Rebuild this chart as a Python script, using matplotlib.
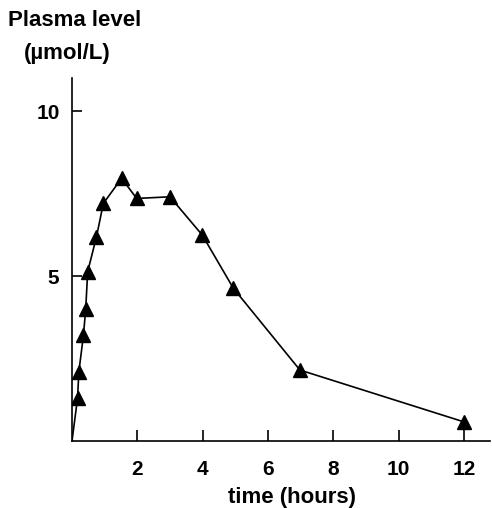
import matplotlib
matplotlib.use("Agg")
import matplotlib.pyplot as plt

plt.rcParams['font.family'] = ['Liberation Sans', 'DejaVu Sans']
plt.rcParams['font.weight'] = 'bold'

# plasma level vs time
time_h = [0.17, 0.21, 0.35, 0.42, 0.48, 0.75, 0.96, 1.52, 1.98, 3.0, 3.99, 4.94, 6.98, 12.0]
level = [1.3, 2.1, 3.2, 4.0, 5.13, 6.19, 7.2, 7.96, 7.35, 7.4, 6.24, 4.63, 2.15, 0.58]
xticks = [2, 4, 6, 8, 10, 12]
yticks = [5, 10]

fig = plt.figure(figsize=(4.92, 5.08), dpi=100)
ax = fig.add_axes([72/492, 67/508, 418/492, 363/508])

# line starts at the origin, no marker there
ax.plot([0] + time_h, [0] + level, color='black', lw=1.2)
ax.plot(time_h, level, linestyle='none', marker='^', ms=10, color='black')

ax.set_xlim(0, 12.8)
ax.set_ylim(0, 11)
ax.set_xticks(xticks)
ax.set_yticks(yticks)
for s in ['top', 'right']:
    ax.spines[s].set_visible(False)
for s in ['left', 'bottom']:
    ax.spines[s].set_linewidth(1.2)
ax.tick_params(axis='x', direction='in', length=8, width=1.2, pad=14, labelsize=15)
ax.tick_params(axis='y', direction='in', length=7, width=1.2, pad=9, labelsize=15)

fig.text(8/492, 1 - 20/508, 'Plasma level', fontsize=16, fontweight='bold', va='center', ha='left')
fig.text(24/492, 1 - 53/508, '(µmol/L)', fontsize=16, fontweight='bold', va='center', ha='left')
fig.text(292/492, 1 - 497/508, 'time (hours)', fontsize=16, fontweight='bold', va='center', ha='center')

fig.savefig('out.png', dpi=100)
